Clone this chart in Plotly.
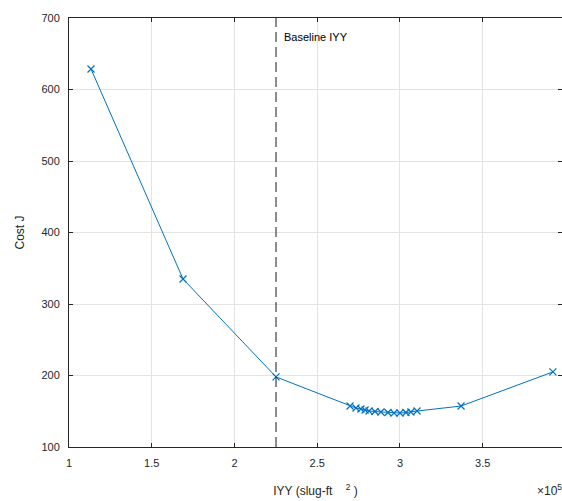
import plotly.graph_objects as go

# IYY (slug-ft^2) and cost J
iyy = [113300, 168900, 225100, 269800, 273400, 276400, 278900, 281300, 284900,
       288500, 292700, 296400, 300000, 303600, 306600, 310300, 336900, 392400]
cost = [628.7, 335.0, 198.0, 157.3, 154.5, 153.1, 151.7, 150.3, 149.6,
        148.9, 148.2, 147.5, 147.5, 148.2, 148.9, 150.3, 157.3, 205.0]
baseline_iyy = 225100

x_tickvals = [100000, 150000, 200000, 250000, 300000, 350000, 400000]
x_ticktext = ["1", "1.5", "2", "2.5", "3", "3.5", "4"]
y_tickvals = [100, 200, 300, 400, 500, 600, 700]

axis_color = "#262626"
grid_color = "#e3e3e3"
font_family = "Liberation Sans, Arial, sans-serif"

fig = go.Figure()
fig.add_trace(go.Scatter(
    x=iyy, y=cost, mode="lines+markers",
    line=dict(color="#0072BD", width=1),
    marker=dict(symbol="x-thin", size=7, line=dict(color="#0072BD", width=1.2)),
    showlegend=False, cliponaxis=False,
))

fig.add_shape(type="line", xref="x", yref="paper",
              x0=baseline_iyy, x1=baseline_iyy, y0=0, y1=1,
              line=dict(color="#1a1a1a", width=1, dash="10px,5px"))
fig.add_annotation(x=baseline_iyy, y=673, xref="x", yref="y",
                   text="Baseline IYY", showarrow=False,
                   xanchor="left", yanchor="middle", xshift=6,
                   font=dict(size=11, color="#000000", family=font_family))
fig.add_annotation(x=1.0, y=0, xref="paper", yref="paper",
                   text="×10<sup>5</sup>", showarrow=False,
                   xanchor="right", yanchor="top", yshift=-33, xshift=2,
                   font=dict(size=12, color=axis_color, family=font_family))

fig.update_xaxes(
    range=[100000, 397900],
    tickvals=x_tickvals, ticktext=x_ticktext,
    showgrid=True, gridcolor=grid_color, gridwidth=1,
    showline=True, linecolor=axis_color, linewidth=1, mirror="ticks",
    ticks="inside", ticklen=4, tickcolor=axis_color,
    zeroline=False, ticklabelstandoff=6,
    tickfont=dict(size=11, color=axis_color, family=font_family),
    title=dict(text="IYY (slug-ft&nbsp;&nbsp;&nbsp;&nbsp;<sup>2</sup>&nbsp;)", standoff=18,
               font=dict(size=12, color=axis_color, family=font_family)),
)
fig.update_yaxes(
    range=[100, 700],
    tickvals=y_tickvals,
    showgrid=True, gridcolor=grid_color, gridwidth=1,
    showline=True, linecolor=axis_color, linewidth=1, mirror="ticks",
    ticks="inside", ticklen=4, tickcolor=axis_color,
    zeroline=False, ticklabelstandoff=6,
    tickfont=dict(size=11, color=axis_color, family=font_family),
    title=dict(text="Cost J", standoff=14,
               font=dict(size=12, color=axis_color, family=font_family)),
)

fig.update_layout(
    width=562, height=501,
    margin=dict(l=69, r=0, t=18, b=54),
    plot_bgcolor="white", paper_bgcolor="white",
    font=dict(family=font_family),
)

fig.write_html("out.html", config={"displayModeBar": False},
               post_script="document.body.style.margin='0';")
